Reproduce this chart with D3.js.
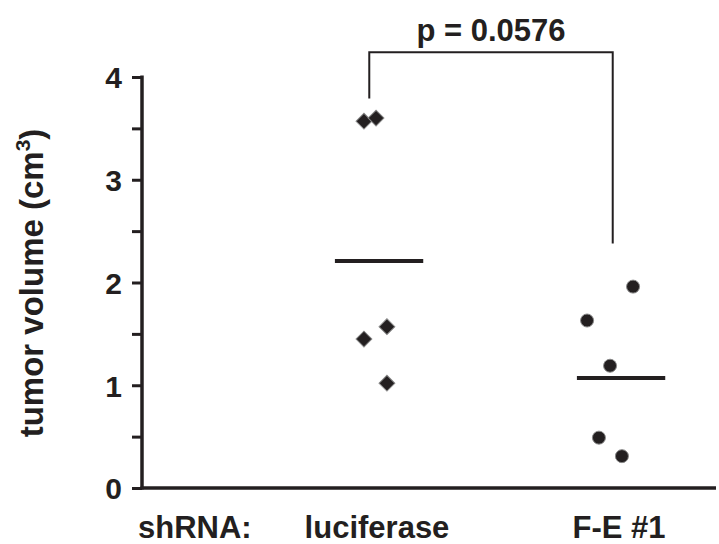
<!DOCTYPE html>
<html><head><meta charset="utf-8">
<script src="https://cdn.jsdelivr.net/npm/d3@7"></script>
<style>body{margin:0;background:#fff;} svg{display:block;font-family:"Liberation Sans",Arial,sans-serif;}</style>
</head><body><svg id="c" width="719" height="544"></svg>
<script>
const categories = ["luciferase", "F-E #1"];
const lucValues = [3.57, 3.60, 1.45, 1.57, 1.02];
const lucJitter = [-0.025, 0.025, -0.025, 0.07, 0.07];
const feValues = [1.96, 1.63, 1.19, 0.49, 0.31];
const feJitter = [0.087, -0.103, -0.008, -0.054, 0.041];
const means = [2.21, 1.07];
const yTicks = [0, 1, 2, 3, 4];
const pLabel = "p = 0.0576";

const svg = d3.select("#c");
const y = d3.scaleLinear().domain([0, 4]).range([488, 77]);
const x = d3.scaleLinear().domain([0, 1]).range([370, 612]);
const ink = "#231f20";
const axX = 142;

// y axis
const yAxis = d3.axisLeft(y).tickValues(d3.range(0, 4.01, 0.5)).tickSize(10)
  .tickFormat(d => yTicks.includes(d) ? d : "");
const gy = svg.append("g").attr("transform", `translate(${axX},0)`).call(yAxis);
gy.select(".domain").remove();
gy.selectAll(".tick line").attr("stroke", ink).attr("stroke-width", 3);
gy.selectAll(".tick text").attr("x", -20).attr("dy", "0.36em").attr("fill", ink)
  .attr("font-size", 30).attr("font-weight", "bold");
svg.append("line").attr("x1", axX).attr("x2", axX).attr("y1", y(4) - 1.5).attr("y2", y(0) + 1.5)
  .attr("stroke", ink).attr("stroke-width", 3.5);
// x axis line
svg.append("line").attr("x1", axX - 1.5).attr("x2", 716).attr("y1", y(0)).attr("y2", y(0))
  .attr("stroke", ink).attr("stroke-width", 3.5);

// y label
svg.append("text").attr("transform", "translate(43,283) rotate(-90)")
  .attr("text-anchor", "middle").attr("font-size", 33).attr("font-weight", "bold").attr("fill", ink)
  .html('tumor volume (cm<tspan font-size="21" dy="-13">3</tspan><tspan dy="13">)</tspan>');

// category labels
svg.append("text").attr("x", 138).attr("y", 538).attr("font-size", 31).attr("font-weight", "bold")
  .attr("fill", ink).text("shRNA:");
svg.selectAll(".cat").data(categories).join("text").attr("class", "cat")
  .attr("x", (d, i) => x(i) + 7).attr("y", 538).attr("text-anchor", "middle")
  .attr("font-size", 31).attr("font-weight", "bold").attr("fill", ink).text(d => d);

// diamonds
svg.selectAll(".dia").data(lucValues).join("path").attr("class", "dia")
  .attr("d", d3.symbol(d3.symbolSquare, 125)())
  .attr("transform", (d, i) => `translate(${x(0 + lucJitter[i])},${y(d)}) rotate(45)`)
  .attr("fill", ink).attr("stroke", "#888").attr("stroke-width", 1);
// circles
svg.selectAll(".dot").data(feValues).join("circle").attr("class", "dot")
  .attr("cx", (d, i) => x(1 + feJitter[i])).attr("cy", d => y(d)).attr("r", 6.5)
  .attr("fill", ink).attr("stroke", "#888").attr("stroke-width", 1);

// mean lines
svg.selectAll(".mean").data(means).join("line").attr("class", "mean")
  .attr("x1", (d, i) => x(i - 0.145)).attr("x2", (d, i) => x(i + 0.22))
  .attr("y1", d => y(d)).attr("y2", d => y(d)).attr("stroke", ink).attr("stroke-width", 4);

// significance bracket
const bracketTop = 4.24;
svg.append("path").attr("fill", "none").attr("stroke", ink).attr("stroke-width", 2)
  .attr("d", `M${x(-0.003)},${y(3.79)} V${y(bracketTop)} H${x(1.003)} V${y(2.38)}`);
svg.append("text").attr("x", (x(0) + x(1)) / 2).attr("y", 41).attr("text-anchor", "middle")
  .attr("font-size", 31).attr("font-weight", "bold").attr("fill", ink).text(pLabel);
</script></body></html>
